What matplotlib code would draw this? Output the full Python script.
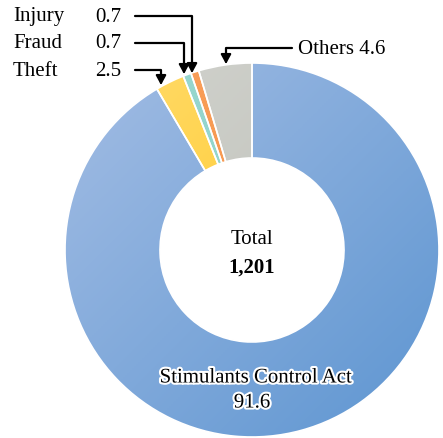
import numpy as np
import matplotlib.pyplot as plt
import matplotlib.patheffects as pe
from matplotlib.colors import LinearSegmentedColormap

# data (share, %)
labels = ["Others", "Injury", "Fraud", "Theft", "Stimulants Control Act"]
values = [4.6, 0.7, 0.7, 2.5, 91.6]
total = "1,201"

# gradient colours (light -> dark) for each slice
grads = [("#d3d4cf", "#b7bab2"),
         ("#f9a25e", "#f58a3c"),
         ("#9ad8d0", "#86cfc6"),
         ("#ffdc70", "#ffc20a"),
         ("#a3bde4", "#5d95d1")]

plt.rcParams['font.family'] = ['Liberation Serif', 'DejaVu Serif']

W, H = 443, 438
fig = plt.figure(figsize=(W / 100, H / 100), dpi=100)
ax = fig.add_axes([0, 0, 1, 1])

cx, cy, R = 252, 250, 187
wedges, _ = ax.pie(values, startangle=-90, counterclock=False, center=(cx, cy),
                   radius=R, wedgeprops=dict(width=95, edgecolor="white", linewidth=1.2),
                   frame=True)

# diagonal gradient fill clipped to each wedge
yy, xx = np.mgrid[0:1:200j, 0:1:200j]
g = (xx + yy) / 2
for w, (c1, c2) in zip(wedges, grads):
    w.set_facecolor("none")
    cmap = LinearSegmentedColormap.from_list("g", [c1, c2])
    im = ax.imshow(g, cmap=cmap, extent=(cx - R, cx + R, cy + R, cy - R),
                   origin="upper", zorder=0.5)
    im.set_clip_path(w)
ax.set_xlim(0, W)
ax.set_ylim(H, 0)
ax.set_aspect("equal")
ax.axis("off")

fs = 15
# center text
ax.text(cx, 240, "Total", ha="center", va="center", fontsize=fs)
ax.text(cx, 268, total, ha="center", va="center", fontsize=fs, fontweight="bold")

# big slice label with white halo
halo = [pe.withStroke(linewidth=3, foreground="white")]
ax.text(cx + 4, 378, labels[4], ha="center", va="center", fontsize=fs, path_effects=halo)
ax.text(cx, 403, f"{values[4]}", ha="center", va="center", fontsize=fs, path_effects=halo)

# small slice callouts
small = [("Injury", 0.7, 17, 192, 73), ("Fraud", 0.7, 44, 184, 74), ("Theft", 2.5, 71, 161, 85)]
aprops = dict(arrowstyle="-|>,head_length=0.55,head_width=0.3", color="black", lw=1.6,
              shrinkA=0, shrinkB=0)
for name, v, ty, ax_x, tip_y in small:
    ax.text(13, ty, name, ha="left", va="center", fontsize=fs)
    ax.text(95, ty, f"{v}", ha="left", va="center", fontsize=fs)
    ax.annotate("", xy=(ax_x, tip_y), xytext=(135, ty - 1),
                arrowprops=dict(connectionstyle="angle,angleA=0,angleB=90,rad=0", **aprops))

ax.text(298, 50, f"Others {values[0]}", ha="left", va="center", fontsize=fs)
ax.annotate("", xy=(226, 64), xytext=(292, 48),
            arrowprops=dict(connectionstyle="angle,angleA=180,angleB=90,rad=0", **aprops))

plt.savefig("out.png", dpi=100)
